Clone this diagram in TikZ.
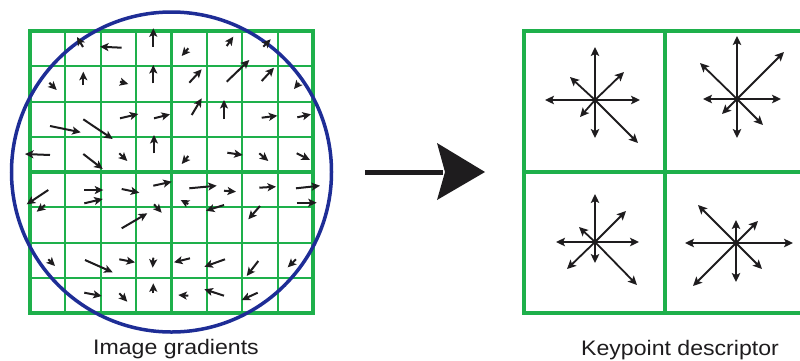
\documentclass[tikz,border=0pt]{standalone}
\usepackage{fontspec}
\setmainfont{Liberation Sans}
\usetikzlibrary{arrows.meta}
\definecolor{gridgreen}{RGB}{30,176,75}
\definecolor{circblue}{RGB}{30,45,150}
\definecolor{ink}{RGB}{30,28,30}
\begin{document}
\begin{tikzpicture}[x=1pt,y=-1pt,
  thingrid/.style={draw=gridgreen,line width=2pt},
  midgrid/.style={draw=gridgreen,line width=3.5pt},
  outgrid/.style={draw=gridgreen,line width=4pt},
  garrow/.style={draw=ink,line width=2pt,-{Stealth[length=8.5pt,width=8pt,inset=2pt]}},
  darrow/.style={draw=ink,line width=1.8pt,-{Stealth[length=9pt,width=8.5pt,inset=2pt]}},
  labeltext/.style={font=\fontsize{21}{25}\selectfont,text=ink,inner sep=0pt}]
\useasboundingbox (0,0) rectangle (800,360);
\fill[white] (0,0) rectangle (800,360);
% ---------- left grid ----------
\foreach \k in {1,2,3,5,6,7}{
  \draw[thingrid] ({30+\k*35.375},31) -- ({30+\k*35.375},313);
  \draw[thingrid] (30,{31+\k*35.25}) -- (313,{31+\k*35.25});
}
\draw[midgrid] (171.5,31) -- (171.5,313);
\draw[midgrid] (30,172) -- (313,172);
\draw[outgrid] (30,31) rectangle (313,313);
% ---------- circle ----------
\draw[circblue,line width=3.5pt] (171.5,172) circle (160);
% ---------- gradient arrows ----------
\foreach \a/\b/\c/\d in {
83/47/77/37, 121.7/47.7/100/46.7, 153.3/46.7/153.3/28.3, 188.3/48.3/181.7/56,
226.7/46/233.3/36.7, 263.3/46.7/270.7/39.3,
49.3/82.7/56.7/90, 83.3/85/83.3/71.7, 120/81.7/128.3/84, 153.3/83.3/153.3/65,
189.3/82.7/201.7/69.3, 226.7/81.7/249.3/60, 261.7/81/274/67.7, 299/83/294/89,
50/126/80.7/132.3, 83.3/119.3/112.7/139, 120/118.3/138.3/114, 154/118.3/170/114.3,
191.7/115/201.7/98.3, 224/119/224/100, 261.7/117.7/277.3/115.7, 297.3/117.3/311/114.3,
50/155/25/154, 83.3/154/102.7/169, 119.3/153.3/127.3/161, 154/153.3/154/135,
188.3/156/181.7/164, 227.3/152.7/242.7/155, 259.3/153.3/268.3/161, 296.7/153.3/310/160,
48.3/190/26.7/204.3, 84/190/103.3/190, 121.7/189/139.3/192.7, 153.3/185.7/171.7/181.7,
189.3/188.3/216.7/185.7, 224/190.7/236/191.7, 259.3/187.7/276/186.7, 296/188.3/320/185.7,
45/205/36.7/211.7, 84.3/203.3/102.7/199, 121.7/228.3/147.3/213.3, 154/204.3/161.7/212.7,
188.3/204/180.7/200, 224/205/206/210.7, 260/206/248.3/219.3, 296.7/202.7/316.7/202.7,
48.3/259.3/55/266, 85/260/112.7/272.3, 119.3/259.3/135/262.3, 153.3/257.7/152.7/267.7,
190/258.3/174/262.3, 225/259.3/204.3/266.7, 258.3/261/246.7/276, 296/259.3/287.7/267.3,
84.3/292.7/101.7/296, 119.3/293.3/127.3/301.7, 153.3/293.3/153.3/283.3,
188.3/295.7/178.3/295, 224/295.7/204.3/289.3, 257.7/292.7/241.7/300}
  \draw[garrow] (\a,\b) -- (\c,\d);
% ---------- big arrow ----------
\coordinate (bigtail) at (365,172);
\coordinate (bigtip) at (485,172);
\draw[ink,line width=5pt] (bigtail) -- ([xshift=-42pt]bigtip);
\fill[ink] (bigtip) -- ++(-48,-29) -- ++(8,29) -- ++(-8,28) -- cycle;
% ---------- keypoint descriptor ----------
\begin{scope}
\clip (0,0) rectangle (800,360);
\draw[outgrid] (524,31) rectangle (806,313);
\draw[outgrid] (665,31) -- (665,313);
\draw[outgrid] (524,172) -- (806,172);
\end{scope}
\foreach \cx/\cy/\n/\s/\w/\e/\nex/\ney/\nwx/\nwy/\swx/\swy/\sex/\sey in {
  595/100/53/38/50/45/29/28/25/23/15/17/43/43,
  737/99/63/39/34/44/47/47/37/36/15/15/26/26,
  595/242/48/21/39/44/31/31/16/15/28/27/42/43,
  736/243/23/39/51/57/22/22/38/38/43/43/26/26}{
  \coordinate (c) at (\cx,\cy);
  \draw[darrow] (c) -- ++(0,-\n);
  \draw[darrow] (c) -- ++(0,\s);
  \draw[darrow] (c) -- ++(-\w,0);
  \draw[darrow] (c) -- ++(\e,0);
  \draw[darrow] (c) -- ++(\nex,-\ney);
  \draw[darrow] (c) -- ++(-\nwx,-\nwy);
  \draw[darrow] (c) -- ++(-\swx,\swy);
  \draw[darrow] (c) -- ++(\sex,\sey);
  \fill[ink] (c) circle (2.2);
}
% ---------- labels ----------
\node[labeltext,anchor=base] (labgrad) at (176,354) {\scalebox{1.1}[1]{Image gradients}};
\node[labeltext,anchor=base] (labdesc) at (680,355) {\scalebox{1.1}[1]{Keypoint descriptor}};
\end{tikzpicture}
\end{document}
